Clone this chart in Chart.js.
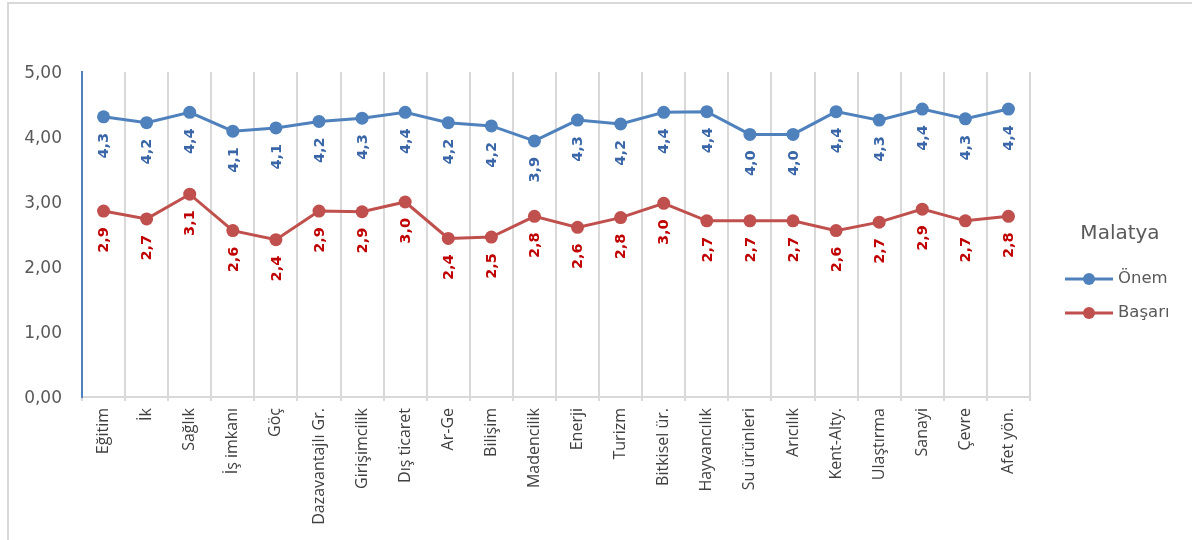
<!DOCTYPE html>
<html>
<head>
<meta charset="utf-8">
<script src="https://cdn.jsdelivr.net/npm/chart.js@4.4.0/dist/chart.umd.min.js"></script>
<style>
  html, body { margin: 0; padding: 0; background: #fff; }
  #wrap { position: relative; width: 1192px; height: 540px; }
  #frame {
    position: absolute; left: 7px; top: 2px; right: 0; bottom: 0;
    border-top: 2px solid #d9d9d9; border-left: 2px solid #d9d9d9;
    pointer-events: none;
  }
  canvas { position: absolute; left: 0; top: 0; }
</style>
</head>
<body>
<div id="wrap">
  <canvas id="chart" width="1192" height="540"></canvas>
  <div id="frame"></div>
</div>
<script>
// sectors along the x axis
const categories = ['Eğitim', 'İk', 'Sağlık', 'İş imkanı', 'Göç', 'Dazavantajlı Gr.', 'Girişimcilik',
  'Dış ticaret', 'Ar-Ge', 'Bilişim', 'Madencilik', 'Enerji', 'Turizm', 'Bitkisel ür.', 'Hayvancılık',
  'Su ürünleri', 'Arıcılık', 'Kent-Alty.', 'Ulaştırma', 'Sanayi', 'Çevre', 'Afet yön.'];

const onemValues = [4.31, 4.22, 4.38, 4.09, 4.14, 4.24, 4.29, 4.38, 4.22, 4.17, 3.94,
  4.26, 4.20, 4.38, 4.39, 4.04, 4.04, 4.39, 4.26, 4.43, 4.28, 4.43];

const basariValues = [2.86, 2.74, 3.12, 2.56, 2.42, 2.86, 2.85, 3.00, 2.44, 2.46, 2.78,
  2.61, 2.76, 2.98, 2.71, 2.71, 2.71, 2.56, 2.69, 2.89, 2.71, 2.78];

const yTicks = [0, 1, 2, 3, 4, 5];

const legendTitle = 'Malatya';

const colors = {
  onemLine: '#4f81bd',
  onemLabel: '#3a66a8',
  basariLine: '#c0504d',
  basariLabel: '#c00000',
  grid: '#d9d9d9',
  tickText: '#595959',
  catText: '#404040'
};

// rotated value labels under each point
const valueLabels = {
  id: 'valueLabels',
  afterDatasetsDraw(chart) {
    const ctx = chart.ctx;
    chart.data.datasets.forEach((ds, i) => {
      const meta = chart.getDatasetMeta(i);
      ctx.save();
      ctx.font = 'bold 14.5px "DejaVu Sans"';
      ctx.fillStyle = ds.labelColor;
      meta.data.forEach((pt, j) => {
        const txt = ds.data[j].toFixed(1).replace('.', ',');
        ctx.save();
        ctx.translate(pt.x, pt.y + 16);
        ctx.rotate(-Math.PI / 2);
        ctx.textAlign = 'right';
        ctx.textBaseline = 'middle';
        ctx.fillText(txt, 0, 1);
        ctx.restore();
      });
      ctx.restore();
    });
  }
};

// legend on the right, drawn by hand
const sideLegend = {
  id: 'sideLegend',
  afterDraw(chart) {
    const ctx = chart.ctx;
    ctx.save();
    ctx.fillStyle = '#595959';
    ctx.font = '20px "DejaVu Sans"';
    ctx.textAlign = 'center';
    ctx.textBaseline = 'middle';
    ctx.fillText(legendTitle, 1120, 234);

    const rows = [279, 313];
    chart.data.datasets.forEach((ds, i) => {
      const y = rows[i];
      ctx.strokeStyle = ds.borderColor;
      ctx.lineWidth = 3;
      ctx.beginPath();
      ctx.moveTo(1065, y);
      ctx.lineTo(1113, y);
      ctx.stroke();
      ctx.fillStyle = ds.borderColor;
      ctx.beginPath();
      ctx.arc(1089, y, 6, 0, Math.PI * 2);
      ctx.fill();
      ctx.fillStyle = '#595959';
      ctx.font = '16.5px "DejaVu Sans"';
      ctx.textAlign = 'left';
      ctx.fillText(ds.label, 1118, y);
    });
    ctx.restore();
  }
};

new Chart(document.getElementById('chart'), {
  type: 'line',
  data: {
    labels: categories,
    datasets: [
      {
        label: 'Önem',
        data: onemValues,
        borderColor: colors.onemLine,
        backgroundColor: colors.onemLine,
        labelColor: colors.onemLabel,
        borderWidth: 3,
        pointRadius: 6.5,
        pointBorderWidth: 0,
        tension: 0
      },
      {
        label: 'Başarı',
        data: basariValues,
        borderColor: colors.basariLine,
        backgroundColor: colors.basariLine,
        labelColor: colors.basariLabel,
        borderWidth: 3,
        pointRadius: 6.5,
        pointBorderWidth: 0,
        tension: 0
      }
    ]
  },
  options: {
    responsive: false,
    animation: false,
    layout: { padding: { top: 72, right: 162, bottom: 0, left: 0 } },
    plugins: {
      legend: { display: false },
      tooltip: { enabled: false }
    },
    scales: {
      x: {
        offset: true,
        grid: { offset: true, color: colors.grid, lineWidth: 2, tickLength: 4 },
        border: { color: colors.grid, width: 2 },
        ticks: {
          minRotation: 90,
          maxRotation: 90,
          autoSkip: false,
          padding: 7,
          color: colors.catText,
          font: { family: 'Open Sans', size: 16 }
        },
        afterFit(scale) { scale.height = 143; }
      },
      y: {
        min: 0,
        max: 5,
        afterBuildTicks(scale) { scale.ticks = yTicks.map(v => ({ value: v })); },
        grid: { display: false, drawTicks: false },
        border: { color: colors.onemLine, width: 2 },
        ticks: {
          padding: 20,
          labelOffset: 2,
          color: colors.tickText,
          font: { family: 'DejaVu Sans', size: 17 },
          callback: v => v.toFixed(2).replace('.', ',')
        },
        afterFit(scale) { scale.width = 82; }
      }
    }
  },
  plugins: [valueLabels, sideLegend]
});
</script>
</body>
</html>
